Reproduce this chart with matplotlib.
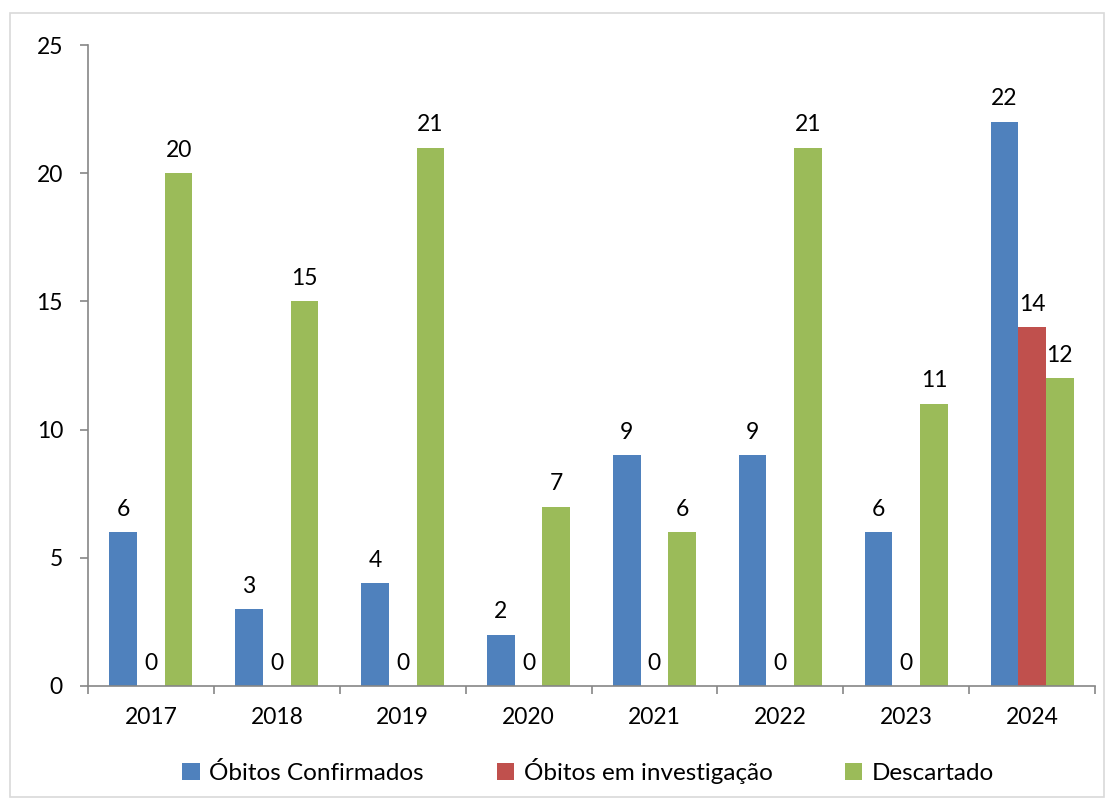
import matplotlib
matplotlib.use("Agg")
import matplotlib.pyplot as plt
import numpy as np
from matplotlib.patches import Rectangle

years = ["2017", "2018", "2019", "2020", "2021", "2022", "2023", "2024"]
confirmados = [6, 3, 4, 2, 9, 9, 6, 22]
investigacao = [0, 0, 0, 0, 0, 0, 0, 14]
descartado = [20, 15, 21, 7, 6, 21, 11, 12]
series_names = ["Óbitos Confirmados", "Óbitos em investigação", "Descartado"]
colors = ["#4F81BD", "#C0504D", "#9BBB59"]

plt.rcParams['font.family'] = ['Lato', 'DejaVu Sans']

fig = plt.figure(figsize=(11.06, 7.98), dpi=100)
fig.patches.append(Rectangle((10/1106, 1-797/798), 1094/1106, (797-13)/798,
                             transform=fig.transFigure, fill=False,
                             edgecolor="#D9D9D9", linewidth=1.2))
ax = fig.add_axes([88/1106, 1-686/798, (1095-88)/1106, (686-45)/798])

x = np.arange(len(years))
w = 0.22
data = [confirmados, investigacao, descartado]
for i, (vals, c, name) in enumerate(zip(data, colors, series_names)):
    pos = x + (i - 1) * w
    ax.bar(pos, vals, width=w, color=c, label=name, zorder=2)
    for p, v in zip(pos, vals):
        ax.annotate(str(v), (p, v), xytext=(0, 9), textcoords="offset points",
                    ha="center", va="bottom", fontsize=16.5)

ax.set_xlim(-0.5, len(years) - 0.5)
ax.set_ylim(0, 25)
ax.set_yticks([0, 5, 10, 15, 20, 25])
ax.set_xticks(x)
ax.set_xticklabels(years)
ax.set_xticks(np.arange(-0.5, len(years), 1), minor=True)
ax.tick_params(axis="x", which="major", length=0, pad=15, labelsize=16.5)
ax.tick_params(axis="x", which="minor", length=6, color="#868686", width=1.2)
ax.tick_params(axis="y", length=6, color="#868686", width=1.2, pad=12, labelsize=16.5)
for s in ["top", "right"]:
    ax.spines[s].set_visible(False)
for s in ["left", "bottom"]:
    ax.spines[s].set_color("#868686")
    ax.spines[s].set_linewidth(1.2)

fig.legend(loc="center", bbox_to_anchor=(0.532, 1-771/798), ncol=3, frameon=False,
           fontsize=17.5, handlelength=0.7, handleheight=0.7, handletextpad=0.4,
           columnspacing=3.0)

fig.savefig("out.png", dpi=100)
